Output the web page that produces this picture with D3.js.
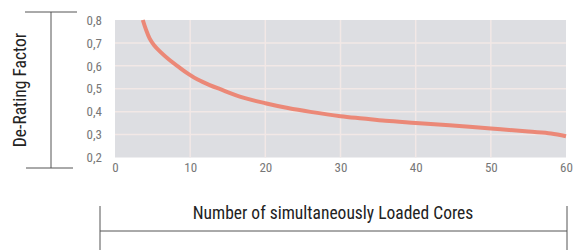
<!DOCTYPE html>
<html><head><meta charset="utf-8">
<script src="https://cdn.jsdelivr.net/npm/d3@7/dist/d3.min.js"></script>
<style>
html,body{margin:0;padding:0;background:#fff;}
svg{display:block;}
text{font-family:"Liberation Sans Narrow","Arial Narrow","Roboto Condensed",Roboto,sans-serif;}
</style></head>
<body>
<svg id="chart" width="578" height="250"></svg>
<script>
const coresX = [3.7, 4.1, 4.6, 5.2, 6, 7.1, 8.6, 9.75, 11, 12.6, 14, 16.6, 20, 23, 26, 30, 33, 36, 40, 44.5, 50, 55, 58, 60];
const deratingY = [0.80, 0.76, 0.72, 0.69, 0.662, 0.63, 0.592, 0.565, 0.54, 0.516, 0.498, 0.466, 0.437, 0.416, 0.399, 0.38, 0.37, 0.36, 0.351, 0.341, 0.327, 0.313, 0.305, 0.293];
const xTicks = [0, 10, 20, 30, 40, 50, 60];
const yTicks = [0.2, 0.3, 0.4, 0.5, 0.6, 0.7, 0.8];
const yTitle = "De-Rating Factor";
const xTitle = "Number of simultaneously Loaded Cores";

const svg = d3.select("#chart");
const L = 115, R = 566, T = 20, B = 157.5;
const x = d3.scaleLinear().domain([0, 60]).range([L, R]);
const y = d3.scaleLinear().domain([0.2, 0.8]).range([B, T]);

svg.append("rect").attr("x", L).attr("y", T).attr("width", R - L).attr("height", B - T).attr("fill", "#dddee2");

const grid = svg.append("g");
grid.selectAll("line.h").data(yTicks.slice(1, -1)).join("line")
  .attr("x1", L).attr("x2", R).attr("y1", d => y(d)).attr("y2", d => y(d))
  .attr("stroke", "#f2e8e6").attr("stroke-width", 1.5);
grid.selectAll("line.v").data(xTicks.slice(1, -1)).join("line")
  .attr("y1", T).attr("y2", B).attr("x1", d => x(d)).attr("x2", d => x(d))
  .attr("stroke", "#f2e8e6").attr("stroke-width", 1.5);

const pts = coresX.map((c, i) => [c, deratingY[i]]);
svg.append("path").datum(pts)
  .attr("d", d3.line().x(d => x(d[0])).y(d => y(d[1])).curve(d3.curveCatmullRom.alpha(0.5)))
  .attr("fill", "none").attr("stroke", "#ec7e6b").attr("stroke-width", 4).attr("stroke-linecap", "butt")
  .attr("opacity", 0.9);

const fmt = d => d3.format(".1f")(d).replace(".", ",");
const yAxis = svg.append("g").attr("transform", `translate(${L},0)`)
  .call(d3.axisLeft(y).tickValues(yTicks).tickFormat(fmt).tickSize(0).tickPadding(13));
yAxis.select(".domain").remove();
yAxis.selectAll("text").attr("fill", "#777").attr("font-size", 13);

const xAxis = svg.append("g").attr("transform", `translate(0,${B})`)
  .call(d3.axisBottom(x).tickValues(xTicks).tickFormat(d3.format("d")).tickSize(0).tickPadding(5));
xAxis.select(".domain").remove();
xAxis.selectAll("text").attr("fill", "#777").attr("font-size", 13);

// left bracket
const br = svg.append("g").attr("stroke", "#555").attr("stroke-width", 1);
br.append("line").attr("x1", 51).attr("x2", 51).attr("y1", 12).attr("y2", 168);
br.append("line").attr("x1", 25).attr("x2", 77).attr("y1", 12).attr("y2", 12);
br.append("line").attr("x1", 26).attr("x2", 73).attr("y1", 168).attr("y2", 168);
svg.append("text").attr("transform", "translate(20,90) rotate(-90)")
  .attr("text-anchor", "middle").attr("dominant-baseline", "central")
  .attr("font-size", 17.5).attr("fill", "#222").text(yTitle);

// bottom bracket
br.append("line").attr("x1", 100).attr("x2", 100).attr("y1", 206).attr("y2", 250);
br.append("line").attr("x1", 567).attr("x2", 567).attr("y1", 206).attr("y2", 250);
br.append("line").attr("x1", 100).attr("x2", 567).attr("y1", 231).attr("y2", 231);
svg.append("text").attr("x", 333).attr("y", 213)
  .attr("text-anchor", "middle").attr("dominant-baseline", "central")
  .attr("font-size", 17.5).attr("fill", "#222").text(xTitle);
</script>
</body></html>
